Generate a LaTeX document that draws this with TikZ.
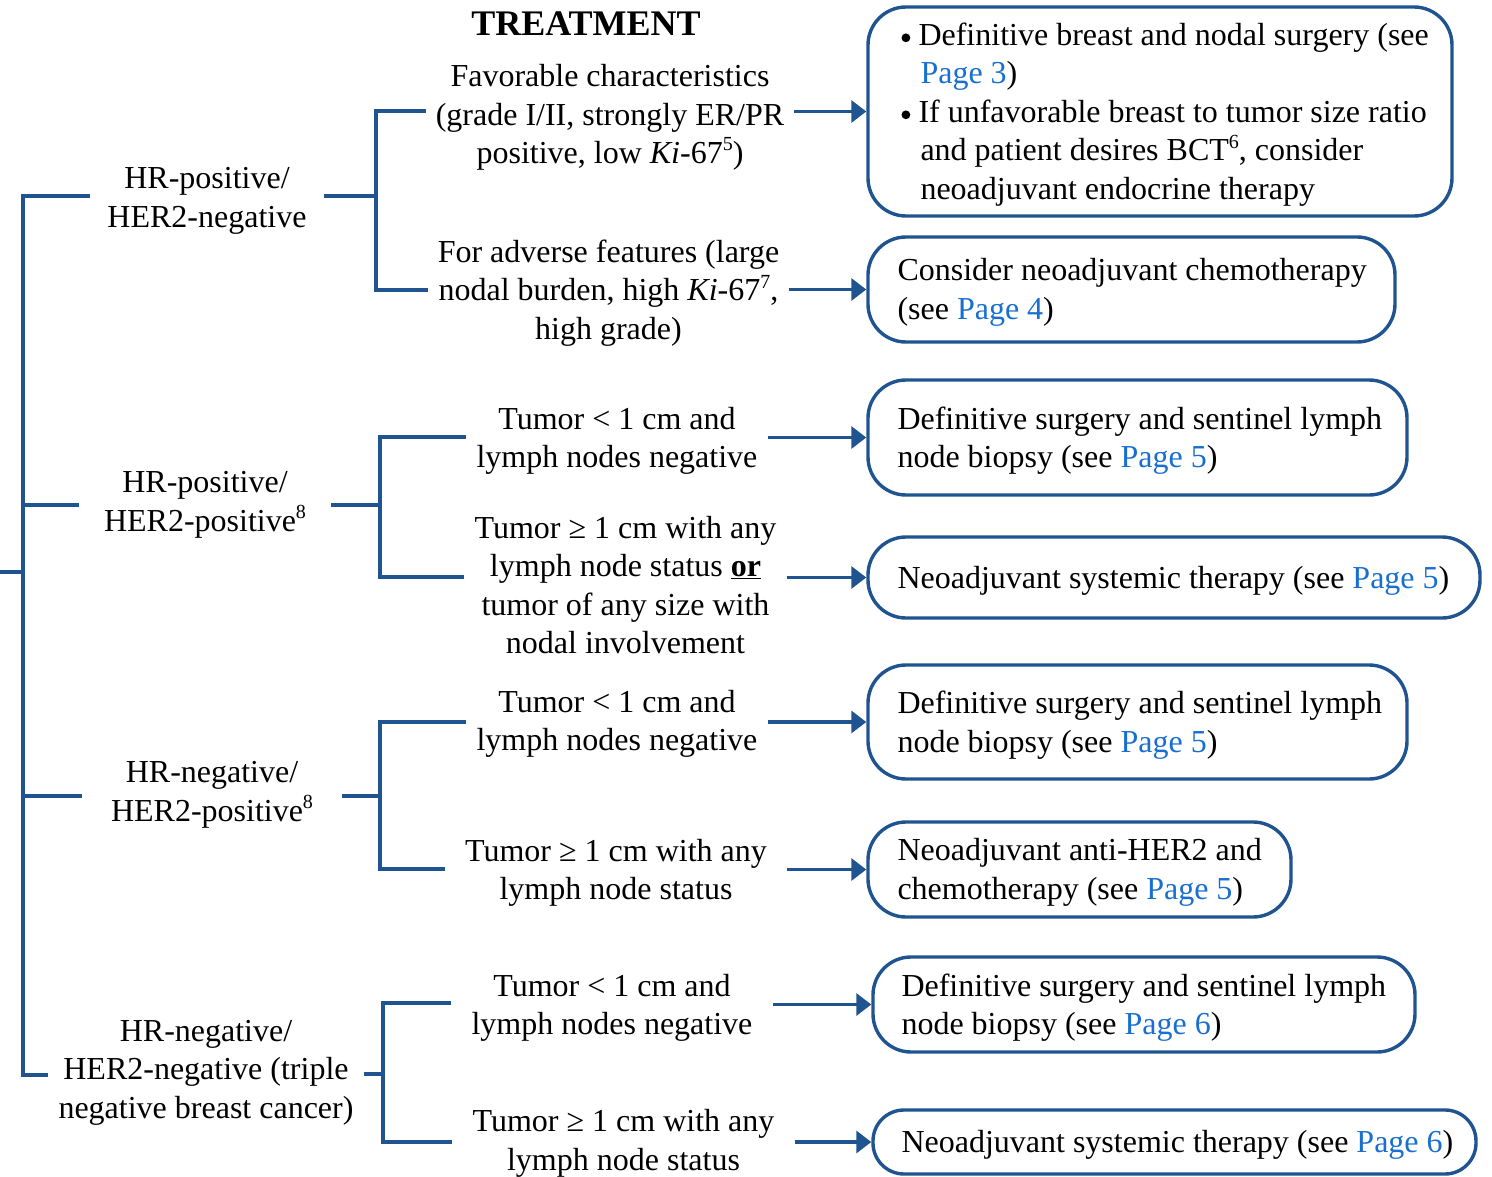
\documentclass[tikz,border=0pt]{standalone}
\usepackage{fontspec}
\setmainfont{Liberation Serif}
\usetikzlibrary{arrows.meta}
\definecolor{flow}{RGB}{31,84,144}
\definecolor{lnk}{RGB}{24,111,207}
\newcommand{\pg}[1]{\textcolor{lnk}{Page #1}}
\newcommand{\sups}[1]{\raisebox{0.4em}{\fontsize{20}{20}\selectfont #1}}
\newcommand{\bul}{\makebox[17pt][l]{\tikz[baseline=-7.5pt]\fill[black] (0,0) circle (4.4pt);}}
\begin{document}
\begin{tikzpicture}[x=1pt,y=-1pt,
  every node/.style={font=\fontsize{32}{38.5}\selectfont, inner ysep=2pt},
  conn/.style={draw=flow, line width=3.4pt},
  arr/.style={conn, -{Triangle[length=15pt,width=22pt]}},
  box/.style={draw=flow, line width=3.4pt, rounded corners=38pt, inner sep=0pt},
  lowered/.style={yshift=-3pt},
  cat/.style={align=center, lowered},
  crit/.style={align=center, inner xsep=10pt, lowered},
  btext/.style={align=left, anchor=west, inner sep=0pt, lowered},
]
\path[use as bounding box] (0,0) rectangle (1492,1177);

% heading
\node[font=\fontsize{36}{40}\selectfont\bfseries] (head) at (586,24) {TREATMENT};

% receptor categories
\node[cat, inner xsep=17pt] (g1) at (207,198) {HR-positive/\\HER2-negative};
\node[cat, inner xsep=25pt] (g2) at (205,502) {HR-positive/\\HER2-positive\sups{8}};
\node[cat, inner xsep=29pt] (g3) at (212,792) {HR-negative/\\HER2-positive\sups{8}};
\node[cat, inner xsep=10pt] (g4) at (206,1069.5) {HR-negative/\\HER2-negative (triple\\negative breast cancer)};

% criteria
\node[crit] (c1) at (610,114.5) {Favorable characteristics\\(grade I/II, strongly ER/PR\\positive, low \textit{Ki}-67\sups{5})};
\node[crit] (c2) at (608.5,290) {For adverse features (large\\nodal burden, high \textit{Ki}-67\sups{7},\\high grade)};
\node[crit] (c3) at (617,438) {Tumor \textless{} 1 cm and\\lymph nodes negative};
\node[crit] (c4) at (625.5,582) {Tumor ≥ 1 cm with any\\lymph node status \textbf{\underline{or}}\\tumor of any size with\\nodal involvement};
\node[crit] (c5) at (617,721) {Tumor \textless{} 1 cm and\\lymph nodes negative};
\node[crit, inner xsep=20pt] (c6) at (616,870) {Tumor ≥ 1 cm with any\\lymph node status};
\node[crit, inner xsep=20pt] (c7) at (612,1005) {Tumor \textless{} 1 cm and\\lymph nodes negative};
\node[crit, inner xsep=20pt] (c8) at (623.5,1140.5) {Tumor ≥ 1 cm with any\\lymph node status};

% treatment boxes
\node[box, minimum width=584pt, minimum height=209pt] (b1) at (1160,111.5) {};
\node[box, minimum width=527pt, minimum height=105pt] (b2) at (1131.5,289.5) {};
\node[box, minimum width=539pt, minimum height=115pt] (b3) at (1137.5,437.5) {};
\node[box, minimum width=612pt, minimum height=81pt] (b4) at (1174,577.5) {};
\node[box, minimum width=539pt, minimum height=114pt] (b5) at (1137.5,722) {};
\node[box, minimum width=423pt, minimum height=95pt] (b6) at (1079.5,869.5) {};
\node[box, minimum width=542pt, minimum height=95pt] (b7) at (1144,1004.5) {};
\node[box, rounded corners=31pt, minimum width=603pt, minimum height=64pt] (b8) at (1174.5,1142) {};

% box texts
\node[btext] (t1) at ([xshift=35pt]b1.west) {\bul Definitive breast and nodal surgery (see\\\hspace*{19pt}\pg{3})\\\bul If unfavorable breast to tumor size ratio\\\hspace*{19pt}and patient desires BCT\sups{6}, consider\\\hspace*{19pt}neoadjuvant endocrine therapy};
\node[btext] (t2) at ([xshift=31pt]b2.west) {Consider neoadjuvant chemotherapy\\(see \pg{4})};
\node[btext] (t3) at ([xshift=31pt]b3.west) {Definitive surgery and sentinel lymph\\node biopsy (see \pg{5})};
\node[btext] (t4) at ([xshift=31pt]b4.west) {Neoadjuvant systemic therapy (see \pg{5})};
\node[btext] (t5) at ([xshift=31pt]b5.west) {Definitive surgery and sentinel lymph\\node biopsy (see \pg{5})};
\node[btext] (t6) at ([xshift=31pt]b6.west) {Neoadjuvant anti-HER2 and\\chemotherapy (see \pg{5})};
\node[btext] (t7) at ([xshift=30pt]b7.west) {Definitive surgery and sentinel lymph\\node biopsy (see \pg{6})};
\node[btext] (t8) at ([xshift=30pt]b8.west) {Neoadjuvant systemic therapy (see \pg{6})};

% trunk
\coordinate (root) at (0,572);
\coordinate (rj) at (23,572);
\coordinate (tr1) at (23,196);
\coordinate (tr2) at (23,505);
\coordinate (tr3) at (23,796);
\coordinate (tr4) at (23,1075);
\draw[conn] (root) -- (rj);
\draw[conn] (g1.west |- tr1) -- (tr1) -- (tr4) -- (g4.west |- tr4);
\draw[conn] (tr2) -- (g2.west |- tr2);
\draw[conn] (tr3) -- (g3.west |- tr3);

% brackets
\coordinate (k1) at (376,196);  \coordinate (k1a) at (376,111);  \coordinate (k1b) at (376,290);
\coordinate (k2) at (380,505);  \coordinate (k2a) at (380,437);  \coordinate (k2b) at (380,577);
\coordinate (k3) at (380,796);  \coordinate (k3a) at (380,722);  \coordinate (k3b) at (380,869);
\coordinate (k4) at (383,1074); \coordinate (k4a) at (383,1003); \coordinate (k4b) at (383,1142);
\draw[conn] (g1.east |- k1) -- (k1);
\draw[conn] (c1.west |- k1a) -- (k1a) -- (k1b) -- (c2.west |- k1b);
\draw[conn] (g2.east |- k2) -- (k2);
\draw[conn] (c3.west |- k2a) -- (k2a) -- (k2b) -- (c4.west |- k2b);
\draw[conn] (g3.east |- k3) -- (k3);
\draw[conn] (c5.west |- k3a) -- (k3a) -- (k3b) -- (c6.west |- k3b);
\draw[conn] (g4.east |- k4) -- (k4);
\draw[conn] (c7.west |- k4a) -- (k4a) -- (k4b) -- (c8.west |- k4b);

% arrows to treatments
\draw[arr] (c1.east |- b1.west) -- (b1.west);
\draw[arr] (c2.east |- b2.west) -- (b2.west);
\draw[arr] (c3.east |- b3.west) -- (b3.west);
\draw[arr] (c4.east |- b4.west) -- (b4.west);
\draw[arr] (c5.east |- b5.west) -- (b5.west);
\draw[arr] (c6.east |- b6.west) -- (b6.west);
\draw[arr] (c7.east |- b7.west) -- (b7.west);
\draw[arr] (c8.east |- b8.west) -- (b8.west);
\end{tikzpicture}
\end{document}
